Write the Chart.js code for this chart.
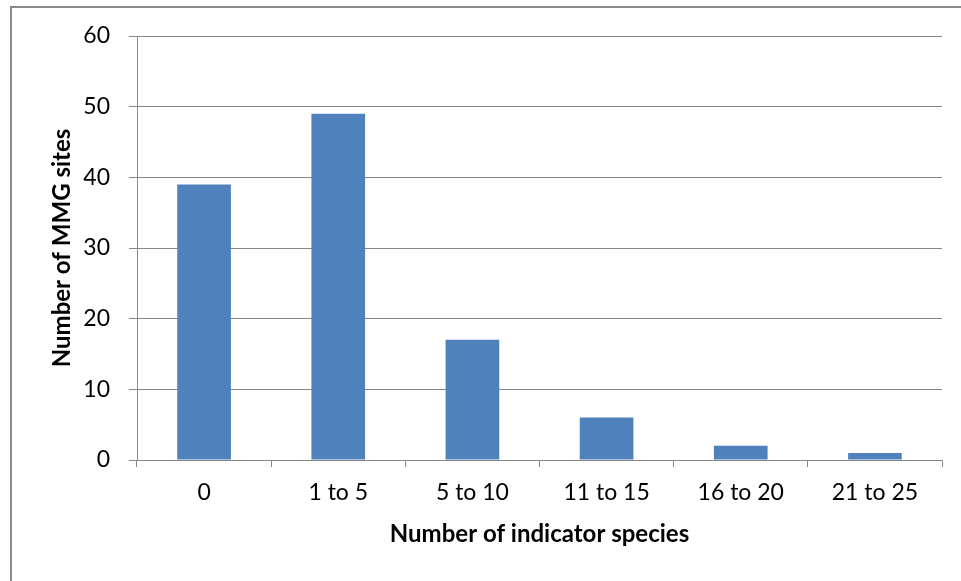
<!DOCTYPE html>
<html>
<head>
<meta charset="utf-8">
<script src="https://cdn.jsdelivr.net/npm/chart.js@4/dist/chart.umd.min.js"></script>
<style>
  html, body { margin: 0; padding: 0; background: #fff; }
  #wrap { position: relative; width: 961px; height: 581px; overflow: hidden; }
  #frame { position: absolute; left: 10px; top: 6px; width: 980px; height: 600px;
           border-left: 2px solid #898989; border-top: 2px solid #898989; box-sizing: border-box; }
  canvas { position: absolute; left: 0; top: 0; }
</style>
</head>
<body>
<div id="wrap">
  <div id="frame"></div>
  <canvas id="c" width="961" height="581"></canvas>
</div>
<script>
const categories = ["0", "1 to 5", "5 to 10", "11 to 15", "16 to 20", "21 to 25"];
const siteCounts = [39, 49, 17, 6, 2, 1];
const yTicks = [0, 10, 20, 30, 40, 50, 60];

const FONT = "Lato, 'Open Sans', sans-serif";
const GRID = "#878787";

new Chart(document.getElementById("c"), {
  type: "bar",
  data: {
    labels: categories,
    datasets: [{
      data: siteCounts,
      backgroundColor: "#4F81BD",
      borderWidth: 0,
      categoryPercentage: 1.0,
      barPercentage: 0.4
    }]
  },
  options: {
    responsive: false,
    animation: false,
    devicePixelRatio: 1,
    layout: { padding: { left: 0, top: 36, right: 19, bottom: 0 } },
    plugins: { legend: { display: false }, tooltip: { enabled: false } },
    scales: {
      x: {
        afterFit: s => { s.height = 121; },
        grid: { display: true, drawOnChartArea: false, color: GRID, tickLength: 7, offset: true },
        border: { display: true, color: GRID, width: 1 },
        ticks: { color: "#000", padding: 12, font: { family: FONT, size: 23 }, maxRotation: 0 },
        title: {
          display: true, text: "Number of indicator species", color: "#000",
          font: { family: FONT, size: 24, weight: "bold" },
          padding: { top: 0, bottom: 32 }
        }
      },
      y: {
        min: 0, max: 60,
        afterFit: s => { s.width = 137; },
        afterBuildTicks: s => { s.ticks = yTicks.map(v => ({ value: v })); },
        grid: { color: GRID, tickLength: 8 },
        border: { display: true, color: GRID, width: 1 },
        ticks: { color: "#000", padding: 19, font: { family: FONT, size: 23 } },
        title: {
          display: true, text: "Number of MMG sites", color: "#000",
          font: { family: FONT, size: 24, weight: "bold" },
          padding: { top: 48, bottom: 0 }
        }
      }
    }
  }
});
</script>
</body>
</html>
